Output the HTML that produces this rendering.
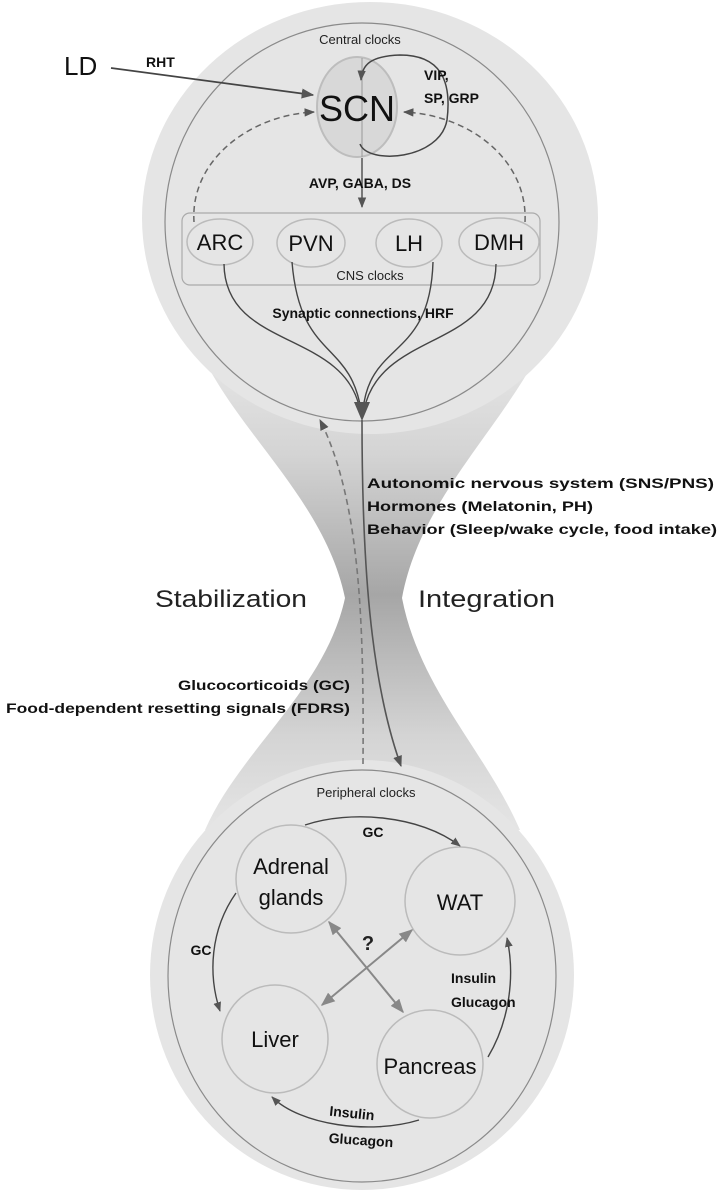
<!DOCTYPE html>
<html><head><meta charset="utf-8"><style>
html,body{margin:0;padding:0;background:#fff;}
svg{display:block;font-family:"Liberation Sans",sans-serif;}
.b{font-weight:bold;font-size:14px;fill:#111;}
.n{font-size:22px;fill:#111;}
</style></head><body>
<svg width="722" height="1192" viewBox="0 0 722 1192" xmlns="http://www.w3.org/2000/svg">
<defs>
<linearGradient id="ng" x1="0" y1="360" x2="0" y2="830" gradientUnits="userSpaceOnUse">
<stop offset="0" stop-color="#e5e5e5"/>
<stop offset="0.2" stop-color="#d4d4d4"/>
<stop offset="0.5" stop-color="#a6a6a6"/>
<stop offset="0.8" stop-color="#d4d4d4"/>
<stop offset="1" stop-color="#e5e5e5"/>
</linearGradient>
<marker id="a" viewBox="0 0 10 10" refX="9" refY="5" markerWidth="7" markerHeight="7" orient="auto-start-reverse"><path d="M0,1 L10,5 L0,9 z" fill="#555"/></marker>
<marker id="ag" viewBox="0 0 10 10" refX="9" refY="5" markerWidth="7" markerHeight="7" orient="auto-start-reverse"><path d="M0,1 L10,5 L0,9 z" fill="#888"/></marker>
</defs>
<!-- gray body -->
<path d="M200,350 C235,430 325,500 345,598 C325,690 240,750 205,830 L520,830 C485,750 420,690 402,598 C420,500 500,430 540,350 Z" fill="url(#ng)"/>
<ellipse cx="370" cy="218" rx="228" ry="216" fill="#e5e5e5"/>
<ellipse cx="362" cy="975" rx="212" ry="215" fill="#e5e5e5"/>
<!-- inner ellipses -->
<ellipse cx="362" cy="222" rx="197" ry="199" fill="none" stroke="#8a8a8a" stroke-width="1.2"/>
<ellipse cx="362" cy="976" rx="194" ry="206" fill="none" stroke="#8a8a8a" stroke-width="1.2"/>

<text x="360" y="44" text-anchor="middle" font-size="13" fill="#222">Central clocks</text>
<!-- SCN -->
<ellipse cx="357" cy="107" rx="40" ry="50" fill="#d8d8d8" stroke="#bdbdbd" stroke-width="2"/>
<line x1="362" y1="58" x2="362" y2="157" stroke="#999" stroke-width="1"/>
<text x="357" y="121" text-anchor="middle" font-size="36" fill="#111">SCN</text>
<!-- VIP loop -->
<path d="M360,144 C368,165 440,160 447,120 C452,80 440,55 400,55 C370,56 362,65 361,80" fill="none" stroke="#444" stroke-width="1.5" marker-end="url(#a)"/>
<text x="424" y="80" class="b">VIP,</text>
<text x="424" y="103" class="b">SP, GRP</text>
<!-- LD -->
<text x="64" y="75" font-size="26" fill="#111">LD</text>
<text x="146" y="67" class="b" font-size="13">RHT</text>
<line x1="111" y1="68" x2="313" y2="95" stroke="#444" stroke-width="1.8" marker-end="url(#a)"/>
<!-- dashed feedback -->
<path d="M194,222 C190,160 250,115 314,112" fill="none" stroke="#666" stroke-width="1.5" stroke-dasharray="6,4" marker-end="url(#a)"/>
<path d="M525,222 C528,160 470,115 404,112" fill="none" stroke="#666" stroke-width="1.5" stroke-dasharray="6,4" marker-end="url(#a)"/>
<!-- AVP arrow -->
<line x1="362" y1="158" x2="362" y2="207" stroke="#555" stroke-width="1.5" marker-end="url(#a)"/>
<text x="360" y="188" text-anchor="middle" class="b">AVP, GABA, DS</text>
<!-- CNS box -->
<rect x="182" y="213" width="358" height="72" rx="8" fill="none" stroke="#aaa" stroke-width="1.2"/>
<ellipse cx="220" cy="242" rx="33" ry="23" fill="#e5e5e5" stroke="#bbb" stroke-width="1.5"/>
<ellipse cx="311" cy="243" rx="34" ry="24" fill="#e5e5e5" stroke="#bbb" stroke-width="1.5"/>
<ellipse cx="409" cy="243" rx="33" ry="24" fill="#e5e5e5" stroke="#bbb" stroke-width="1.5"/>
<ellipse cx="499" cy="242" rx="40" ry="24" fill="#e5e5e5" stroke="#bbb" stroke-width="1.5"/>
<text x="220" y="250" text-anchor="middle" class="n">ARC</text>
<text x="311" y="251" text-anchor="middle" class="n">PVN</text>
<text x="409" y="251" text-anchor="middle" class="n">LH</text>
<text x="499" y="250" text-anchor="middle" class="n">DMH</text>
<text x="370" y="280" text-anchor="middle" font-size="13" fill="#222">CNS clocks</text>
<!-- converging curves -->
<g fill="none" stroke="#444" stroke-width="1.4">
<path d="M224,264 C225,350 345,330 360,410"/>
<path d="M292,262 C300,360 350,340 361,410"/>
<path d="M433,262 C430,360 370,340 363,410"/>
<path d="M496,264 C495,350 380,330 364,410"/>
</g>
<text x="363" y="318" text-anchor="middle" class="b" font-size="15">Synaptic connections, HRF</text>
<path d="M354,402 L370,402 L362,421 Z" fill="#555"/>
<!-- main arrows -->
<path d="M362,420 C362,560 370,680 401,766" fill="none" stroke="#555" stroke-width="1.6" marker-end="url(#a)"/>
<path d="M363,764 C364,620 360,500 320,420" fill="none" stroke="#777" stroke-width="1.6" stroke-dasharray="6,4" marker-end="url(#a)"/>
<text x="367" y="488" class="b" font-size="15" textLength="347" lengthAdjust="spacingAndGlyphs">Autonomic nervous system (SNS/PNS)</text>
<text x="367" y="511" class="b" font-size="15" textLength="226" lengthAdjust="spacingAndGlyphs">Hormones (Melatonin, PH)</text>
<text x="367" y="534" class="b" font-size="15" textLength="350" lengthAdjust="spacingAndGlyphs">Behavior (Sleep/wake cycle, food intake)</text>
<text x="155" y="607" font-size="24" fill="#222" textLength="152" lengthAdjust="spacingAndGlyphs">Stabilization</text>
<text x="418" y="607" font-size="24" fill="#222" textLength="137" lengthAdjust="spacingAndGlyphs">Integration</text>
<text x="350" y="690" text-anchor="end" class="b" font-size="15" textLength="172" lengthAdjust="spacingAndGlyphs">Glucocorticoids (GC)</text>
<text x="6" y="713" class="b" font-size="15" textLength="344" lengthAdjust="spacingAndGlyphs">Food-dependent resetting signals (FDRS)</text>
<!-- peripheral -->
<text x="366" y="797" text-anchor="middle" font-size="13" fill="#222">Peripheral clocks</text>
<g fill="#e5e5e5" stroke="#bbb" stroke-width="1.5">
<ellipse cx="291" cy="879" rx="55" ry="54"/>
<ellipse cx="460" cy="901" rx="55" ry="54"/>
<ellipse cx="275" cy="1039" rx="53" ry="54"/>
<ellipse cx="430" cy="1064" rx="53" ry="54"/>
</g>
<text x="291" y="874" text-anchor="middle" class="n">Adrenal</text>
<text x="291" y="905" text-anchor="middle" class="n">glands</text>
<text x="460" y="910" text-anchor="middle" class="n">WAT</text>
<text x="275" y="1047" text-anchor="middle" class="n">Liver</text>
<text x="430" y="1074" text-anchor="middle" class="n">Pancreas</text>
<g fill="none" stroke="#444" stroke-width="1.4">
<path d="M305,825 C350,810 420,815 460,846" marker-end="url(#a)"/>
<path d="M236,893 C210,930 208,975 220,1011" marker-end="url(#a)"/>
<path d="M488,1057 C510,1020 515,975 507,938" marker-end="url(#a)"/>
<path d="M419,1120 C370,1135 300,1125 272,1097" marker-end="url(#a)"/>
</g>
<g stroke="#888" stroke-width="2">
<line x1="329" y1="922" x2="403" y2="1012" marker-start="url(#ag)" marker-end="url(#ag)"/>
<line x1="412" y1="930" x2="322" y2="1005" marker-start="url(#ag)" marker-end="url(#ag)"/>
</g>
<text x="368" y="950" text-anchor="middle" font-weight="bold" font-size="20" fill="#222">?</text>
<text x="373" y="837" text-anchor="middle" class="b" font-size="13">GC</text>
<text x="201" y="955" text-anchor="middle" class="b" font-size="13">GC</text>
<text x="451" y="983" class="b">Insulin</text>
<text x="451" y="1007" class="b">Glucagon</text>
<text x="352" y="1118" text-anchor="middle" class="b" transform="rotate(6 352 1113)">Insulin</text>
<text x="361" y="1145" text-anchor="middle" class="b" transform="rotate(4 361 1140)">Glucagon</text>
</svg>
</body></html>
